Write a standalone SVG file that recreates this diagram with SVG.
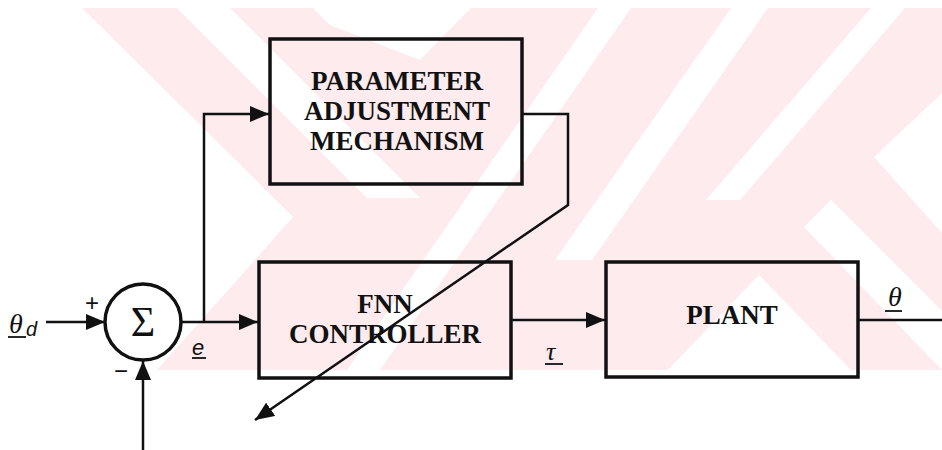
<svg xmlns="http://www.w3.org/2000/svg" width="942" height="450" viewBox="0 0 942 450">
  <style>
    .box { fill: none; stroke: #111; stroke-width: 3.5; }
    .wire { fill: none; stroke: #111; stroke-width: 2.5; }
    .ul { stroke: #111; stroke-width: 1.8; }
    .lbl { font-family: "Liberation Serif", serif; font-weight: bold; font-size: 27px; fill: #111; text-anchor: middle; }
    .sym { font-family: "Liberation Serif", serif; font-style: italic; fill: #111; }
    .ssym { font-family: "Liberation Sans", sans-serif; font-style: italic; fill: #111; }
    .wm { fill: #fdebee; }
    .wg { fill: #ffffff; }
  </style>
  <defs>
    <marker id="ah" markerWidth="20" markerHeight="16" refX="19" refY="8" orient="auto" markerUnits="userSpaceOnUse">
      <path d="M0,0 L19,8 L0,16 Z" fill="#111"/>
    </marker>
    <clipPath id="wmclip"><rect x="0" y="8" width="942" height="362"/></clipPath>
  </defs>
  <rect width="942" height="450" fill="#ffffff"/>
  <g id="watermark" clip-path="url(#wmclip)">
    <rect class="wm" x="0" y="8" width="942" height="362"/>
    <polygon class="wg" points="0,8 82,8 293,217 157,370 0,370"/>
    <polygon class="wg" points="177,8 230,8 420,198 367,198"/>
    <polygon class="wg" points="313,8 471,8 420,60 330,25"/>
    <polygon class="wg" points="598,8 631,8 380,370 347,370"/>
    <polygon class="wg" points="731,8 768,8 592,260 555,260"/>
    <polygon class="wg" points="871,8 905,8 740,200 706,200"/>
    <polygon class="wg" points="759,275 851,370 668,370"/>
    <polygon class="wg" points="942,93 874,157 942,233"/>
    <polygon class="wg" points="831,200 942,311 942,370 804,227"/>
  </g>
  <g id="sum">
    <circle cx="143" cy="322" r="38" fill="none" stroke="#111" stroke-width="3.5"/>
    <text x="143" y="336" font-family="Liberation Serif, serif" font-size="42" fill="#111" text-anchor="middle">Σ</text>
    <text x="92" y="311" font-family="Liberation Sans, sans-serif" font-size="24" fill="#111" text-anchor="middle">+</text>
    <text x="121" y="379" font-family="Liberation Sans, sans-serif" font-size="24" fill="#111" text-anchor="middle">−</text>
  </g>
  <g id="pam">
    <rect class="box" x="270" y="39" width="252" height="145"/>
    <text class="lbl" x="397" y="90">PARAMETER</text>
    <text class="lbl" x="397" y="120">ADJUSTMENT</text>
    <text class="lbl" x="397" y="150">MECHANISM</text>
  </g>
  <g id="fnn">
    <rect class="box" x="259" y="262" width="252" height="116"/>
    <text class="lbl" x="385" y="313">FNN</text>
    <text class="lbl" x="385" y="343">CONTROLLER</text>
  </g>
  <g id="plant">
    <rect class="box" x="606" y="262" width="252" height="115"/>
    <text class="lbl" x="732" y="324">PLANT</text>
  </g>
  <g id="connectors">
    <line class="wire" x1="46" y1="322" x2="105" y2="322" marker-end="url(#ah)"/>
    <line class="wire" x1="143" y1="450" x2="143" y2="361" marker-end="url(#ah)"/>
    <line class="wire" x1="181" y1="322" x2="258" y2="322" marker-end="url(#ah)"/>
    <polyline class="wire" points="204,322 204,114 269,114" marker-end="url(#ah)"/>
    <polyline class="wire" points="522,114 568,114 568,205 255,420" marker-end="url(#ah)"/>
    <line class="wire" x1="511" y1="320" x2="605" y2="320" marker-end="url(#ah)"/>
    <line class="wire" x1="858" y1="320" x2="942" y2="320"/>
  </g>
  <g id="labels">
    <text class="sym" x="9" y="333" font-size="28">θ</text>
    <text class="ssym" x="26" y="336" font-size="20">d</text>
    <line class="ul" x1="8" y1="337" x2="26" y2="337"/>
    <text class="ssym" x="192" y="355" font-size="22">e</text>
    <line class="ul" x1="192" y1="358" x2="206" y2="358"/>
    <text class="sym" x="546" y="360" font-size="26">τ</text>
    <line class="ul" x1="545" y1="364" x2="563" y2="364"/>
    <text class="sym" x="888" y="306" font-size="28">θ</text>
    <line class="ul" x1="885" y1="311" x2="902" y2="311"/>
  </g>
</svg>
